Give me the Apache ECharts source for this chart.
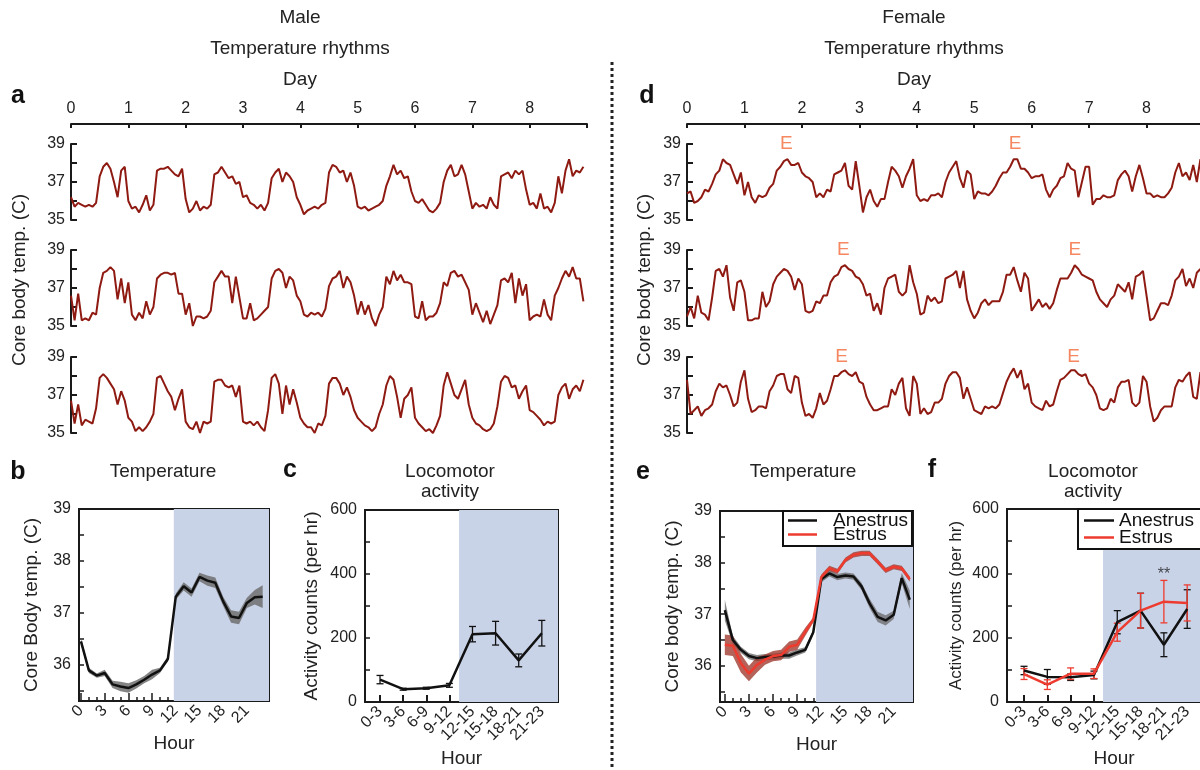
<!DOCTYPE html>
<html lang="en">
<head>
<meta charset="UTF-8">
<title>Temperature rhythms</title>
<style>
  html, body { margin: 0; padding: 0; overflow: hidden; background: #fff; }
  #main { width: 1240px; height: 770px; }
</style>
<script src="https://cdn.jsdelivr.net/npm/echarts@6.0.0/dist/echarts.min.js"></script>
</head>
<body>
<div id="main"></div>
<script>
// ---------- data ----------
// raw core temperature, one sample every 1.5 h (16 per day), 9 days
var SAMPLES_PER_DAY = 16;
var maleTrace1 = [
  36.2,35.7,35.9,35.8,35.7,35.8,35.7,35.9,37.3,37.8,38.0,37.7,37.0,36.2,37.6,37.8,
  36.0,35.6,35.7,35.4,35.8,36.3,35.5,35.8,37.6,37.7,37.7,37.8,37.6,37.4,37.3,37.7,
  36.1,35.4,35.6,36.0,35.5,35.7,35.6,35.8,37.4,37.5,37.8,37.5,37.2,37.3,36.9,37.0,
  36.2,36.3,35.9,35.8,35.6,35.8,35.5,35.9,37.2,37.5,37.7,37.0,37.5,37.3,37.0,36.2,
  35.8,35.3,35.5,35.6,35.7,35.6,35.8,35.9,37.5,37.9,37.8,37.5,37.6,37.0,37.5,36.8,
  35.7,35.6,35.7,35.5,35.6,35.7,35.8,36.0,36.8,37.3,37.9,37.4,37.6,37.2,37.3,36.5,
  36.0,35.9,36.1,35.8,35.5,35.4,35.6,35.9,37.0,37.6,37.9,37.3,37.4,37.9,37.4,36.5,
  35.6,35.9,35.7,35.8,35.6,36.2,35.8,35.6,37.3,37.4,37.5,37.2,37.6,37.4,37.6,36.6,
  35.8,35.9,35.6,36.4,35.6,35.7,35.4,35.9,37.3,36.4,37.6,38.2,37.3,37.6,37.5,37.8
];
var maleTrace2 = [
  36.6,35.3,36.7,35.3,35.4,35.3,35.7,35.6,37.0,37.8,37.9,38.1,37.9,36.4,37.5,36.2,
  37.3,35.6,35.3,35.7,35.4,36.3,35.6,36.0,37.5,37.7,37.8,37.8,37.7,37.8,36.7,36.7,
  35.6,36.2,35.0,35.5,35.5,35.4,35.5,35.8,37.3,37.6,37.9,37.6,37.6,36.2,37.6,36.5,
  35.4,35.4,36.2,35.3,35.4,35.6,35.8,36.0,37.5,37.9,38.0,37.8,37.0,37.6,37.4,36.6,
  36.3,35.6,35.5,35.7,35.6,35.7,35.5,35.9,37.1,37.5,37.6,37.9,37.0,37.6,37.3,36.6,
  35.6,36.3,35.6,36.1,35.4,35.0,35.6,36.0,37.6,37.2,37.9,37.4,37.7,37.3,37.3,37.2,
  35.5,35.4,36.3,35.3,35.5,35.5,35.7,36.2,37.3,37.1,37.8,37.9,37.6,37.7,37.3,36.9,
  35.6,36.2,35.7,35.2,35.8,35.1,35.6,36.1,37.4,37.5,37.3,37.8,36.2,37.5,36.6,37.2,
  35.3,35.5,35.6,35.5,36.4,35.6,35.3,36.6,37.0,37.5,37.9,37.6,38.1,37.5,37.5,36.3
];
var maleTrace3 = [
  36.7,35.5,36.5,35.4,35.7,35.6,35.5,36.3,37.9,38.1,37.9,37.6,37.3,36.5,37.2,36.7,
  35.8,35.6,35.1,35.3,35.1,35.3,35.6,36.0,37.9,38.0,37.6,37.2,36.9,36.2,36.8,37.3,
  35.6,35.3,35.2,35.6,35.0,35.6,35.5,35.6,37.7,37.8,37.8,37.5,37.4,37.5,36.9,37.5,
  35.6,35.5,35.6,35.4,35.6,35.3,35.1,36.2,37.9,38.1,37.6,36.0,37.5,36.5,37.3,36.6,
  35.8,35.5,35.3,35.3,35.0,35.5,35.4,35.9,37.6,37.9,37.9,37.6,37.0,37.4,36.9,36.2,
  35.8,35.6,35.4,35.3,35.1,35.3,36.0,36.5,37.5,38.0,37.8,36.9,35.8,36.8,37.0,37.4,
  35.8,35.5,35.3,35.1,35.2,35.0,35.4,35.9,37.5,38.2,37.6,37.0,36.8,37.3,37.8,36.5,
  35.8,35.5,35.4,35.2,35.1,35.2,35.5,36.4,37.7,38.0,37.9,37.4,37.5,36.8,37.2,37.5,
  36.2,36.1,35.9,35.7,35.4,35.6,35.5,35.6,37.0,37.4,37.6,36.8,37.3,37.5,37.2,37.8
];
var femaleTrace1 = [
  36.4,36.5,35.9,36.0,36.2,36.6,36.5,36.9,37.4,37.6,38.2,38.0,37.9,37.4,36.9,37.5,
  36.3,37.0,36.2,35.9,36.3,36.2,36.3,36.7,36.9,37.6,37.8,38.1,38.2,37.9,37.9,38.0,
  37.5,37.3,37.2,37.0,36.2,36.4,36.2,36.6,36.5,37.4,37.5,37.6,38.0,36.8,36.6,38.1,
  36.8,35.4,36.2,36.6,36.0,35.7,36.1,36.1,37.0,37.8,37.6,37.3,36.7,37.3,37.7,38.2,
  36.3,36.0,36.1,36.0,36.3,36.3,36.4,36.2,37.0,37.5,37.8,38.1,37.2,36.7,37.6,37.4,
  36.1,36.5,36.4,36.4,36.3,36.5,36.8,37.2,37.5,37.5,37.8,38.2,38.2,37.7,37.7,37.5,
  37.2,37.3,37.3,37.4,36.6,36.2,36.6,36.8,37.2,37.3,38.0,37.7,37.6,36.2,37.0,37.8,
  37.8,35.8,36.1,36.1,36.3,36.2,36.2,36.3,37.1,37.4,37.6,37.3,36.5,37.3,37.9,37.2,
  36.4,36.4,36.2,36.3,36.2,36.2,36.4,36.7,37.5,38.0,37.3,37.5,37.1,37.9,37.0,38.2
];
var femaleTrace2 = [
  35.5,36.0,35.4,36.6,35.7,35.6,35.3,36.5,37.9,38.0,37.6,38.2,36.5,35.8,37.3,37.4,
  36.8,35.3,35.3,35.4,35.4,36.8,36.0,36.3,37.2,37.6,37.8,38.0,37.9,37.6,36.9,37.5,
  37.2,35.8,35.7,35.8,36.3,36.2,36.6,36.6,37.3,37.6,37.7,38.1,38.2,38.0,37.9,37.6,
  37.5,37.2,36.6,36.7,35.8,36.2,35.6,37.0,37.5,37.6,37.7,36.8,36.6,36.8,38.2,37.3,
  36.7,35.6,35.7,36.6,36.3,36.5,36.2,36.3,37.5,37.6,37.7,37.9,37.0,37.9,36.4,35.8,
  35.4,35.7,36.2,36.4,36.1,36.3,36.3,36.3,36.8,37.7,37.7,38.1,37.4,36.8,37.8,37.5,
  35.8,36.1,36.4,36.0,36.2,35.9,36.2,36.9,37.5,37.5,37.5,37.8,38.2,38.0,37.7,37.6,
  37.5,37.4,36.8,36.4,36.2,36.0,36.4,36.6,37.2,37.0,36.8,37.3,36.4,37.6,37.7,37.9,
  36.6,35.3,35.4,35.8,36.2,36.2,36.1,36.6,37.4,37.6,38.0,37.1,37.5,37.0,37.8,38.0
];
var femaleTrace3 = [
  37.8,36.0,36.2,36.4,35.9,36.2,36.3,36.5,37.2,37.6,37.4,37.5,37.0,36.4,36.6,37.7,
  38.3,36.8,36.1,36.2,36.4,36.4,36.3,37.2,37.5,38.0,38.1,38.1,37.3,37.1,38.0,37.9,
  36.6,35.9,36.0,35.8,36.3,37.1,36.5,36.7,37.3,38.0,38.0,38.2,38.3,38.1,38.0,38.2,
  37.7,37.6,36.9,36.5,36.2,36.2,36.3,36.4,36.4,37.3,37.0,37.6,37.9,36.3,35.9,38.0,
  37.6,36.0,36.3,36.0,36.1,36.6,36.6,36.8,37.6,38.0,38.2,38.2,37.9,36.8,37.4,36.8,
  36.2,36.1,36.0,36.4,36.3,36.4,36.3,36.5,37.1,37.7,38.1,38.4,37.9,38.3,37.3,37.6,
  36.6,36.4,36.3,36.2,36.7,36.4,36.5,37.2,37.8,37.9,38.1,38.3,38.3,38.1,38.0,38.1,
  37.6,37.4,37.0,36.3,36.2,36.3,36.8,36.6,37.4,37.7,37.7,37.8,36.6,36.4,36.6,38.0,
  37.7,36.4,35.6,35.8,36.2,36.4,36.4,36.4,37.4,37.8,37.7,38.0,38.2,36.9,36.8,38.2
];
// estrus marks (day) for each female row
var estrusDays = [[1.73, 5.71], [2.72, 6.75], [2.69, 6.73]];

// hourly averages
var hours = [0,1,2,3,4,5,6,7,8,9,10,11,12,13,14,15,16,17,18,19,20,21,22,23];
var hourLabels = [0,3,6,9,12,15,18,21];
var maleTemp = [36.45,35.89,35.79,35.84,35.62,35.58,35.55,35.62,35.71,35.81,35.89,36.11,
                37.31,37.51,37.39,37.69,37.62,37.58,37.22,36.93,36.9,37.19,37.3,37.31];
var maleTempErr = [0.06,0.05,0.04,0.06,0.07,0.09,0.09,0.08,0.07,0.09,0.05,0.05,
                   0.06,0.08,0.08,0.08,0.10,0.10,0.09,0.12,0.12,0.10,0.14,0.22];
var anestrusTemp = [37.08,36.5,36.31,36.19,36.15,36.17,36.18,36.2,36.2,36.26,36.31,36.65,
                    37.68,37.79,37.72,37.75,37.73,37.54,37.21,36.95,36.88,36.99,37.7,37.28];
var anestrusTempErr = [0.2,0.08,0.06,0.06,0.06,0.06,0.06,0.06,0.06,0.06,0.05,0.05,
                       0.06,0.06,0.06,0.06,0.06,0.07,0.09,0.1,0.1,0.08,0.1,0.18];
var estrusTemp = [36.41,36.39,36.05,35.85,36.02,36.12,36.19,36.21,36.37,36.41,36.66,36.89,
                  37.72,37.89,37.83,38.05,38.15,38.18,38.18,38.02,37.85,37.92,37.89,37.68];
var estrusTempErr = [0.2,0.2,0.18,0.15,0.15,0.1,0.1,0.1,0.1,0.1,0.08,0.05,
                     0.05,0.05,0.05,0.05,0.05,0.05,0.05,0.05,0.05,0.05,0.05,0.05];

var actCats = ['0-3','3-6','6-9','9-12','12-15','15-18','18-21','21-23'];
var maleAct = [70,40,43,52,212,215,130,215];
var maleActErr = [13,3,3,6,24,37,20,40];
var anestrusAct = [98,78,77,84,248,284,178,289];
var anestrusActErr = [13,23,10,12,36,54,37,60];
var estrusAct = [87,54,88,88,217,284,312,308];
var estrusActErr = [17,15,18,15,28,54,66,56];

var tempTicks = [35.5,36,36.5,37,37.5,38,38.5,39];
var tempLabels = [36,37,38,39];

// ---------- styles ----------
var FONT = '"Liberation Sans", Arial, Helvetica, sans-serif';
var INK = '#1a1a1a';
var TXT = '#222';
var TRACE = '#8e1a12';
var SHADE = '#c9d3e8';
var RED = '#ee3b2f';
var ORANGE = '#f2693a';

var chart = echarts.init(document.getElementById('main'));

function txt(s, x, y, size, extra) {
  var el = {
    type: 'text', x: x, y: y, silent: true,
    style: { text: s, x: 0, y: 0, fill: TXT, font: size + 'px ' + FONT, align: 'center', verticalAlign: 'middle' }
  };
  if (extra) Object.assign(el, extra);
  return el;
}
function letter(s, x, y) {
  return { type: 'text', x: x, y: y, silent: true,
    style: { text: s, fill: '#111', font: 'bold 25px ' + FONT, align: 'center', verticalAlign: 'middle' } };
}

// ---------- grids ----------
var grids = [];
var rowTops = [144, 250, 357];
rowTops.forEach(function (t) { grids.push({ left: 71, top: t, width: 516, height: 76 }); });
rowTops.forEach(function (t) { grids.push({ left: 687, top: t, width: 517, height: 76 }); });
var boxed = { show: true, borderColor: INK, borderWidth: 2, backgroundColor: 'transparent' };
grids.push(Object.assign({ left: 79, top: 509, width: 190, height: 192 }, boxed));   // 6 b
grids.push(Object.assign({ left: 365, top: 510, width: 193, height: 192 }, boxed));  // 7 c
grids.push(Object.assign({ left: 720, top: 511, width: 193, height: 191 }, boxed));  // 8 e
grids.push(Object.assign({ left: 1007, top: 509, width: 214, height: 193 }, boxed)); // 9 f

// ---------- axes ----------
function dayAxis(gi, shown) {
  return {
    type: 'value', gridIndex: gi, min: 0, max: 9, interval: 1, show: shown,
    position: 'top', offset: 20,
    axisLine: { show: true, onZero: false, lineStyle: { color: INK, width: 2 } },
    axisTick: { show: true, inside: true, length: 4, lineStyle: { color: INK, width: 2 } },
    axisLabel: { fontSize: 16, color: TXT, fontFamily: FONT, margin: 7,
      formatter: function (v) { return v === 9 ? '' : v; } },
    splitLine: { show: false }
  };
}
function traceY(gi) {
  return {
    type: 'value', gridIndex: gi, min: 35, max: 39, interval: 1,
    axisLine: { show: true, onZero: false, lineStyle: { color: INK, width: 2 } },
    axisTick: { show: true, inside: true, length: 6, lineStyle: { color: INK, width: 2 } },
    axisLabel: { fontSize: 16, color: TXT, fontFamily: FONT, margin: 6,
      formatter: function (v) { return v % 2 === 1 ? v : ''; } },
    splitLine: { show: false }
  };
}
function hourAxis(gi, min, max) {
  return {
    type: 'value', gridIndex: gi, min: min, max: max, position: 'bottom',
    axisLine: { show: true, onZero: false, lineStyle: { color: INK, width: 2 } },
    axisTick: { show: true, inside: true, length: 4, customValues: hours, lineStyle: { color: INK, width: 1.5 } },
    axisLabel: { customValues: hourLabels, rotate: 45, margin: 7, fontSize: 16, color: TXT, fontFamily: FONT },
    splitLine: { show: false },
    name: 'Hour', nameLocation: 'middle', nameGap: 33,
    nameTextStyle: { fontSize: 19, color: TXT, fontFamily: FONT }
  };
}
function hourMajor(gi, min, max) {
  return {
    type: 'value', gridIndex: gi, min: min, max: max, position: 'bottom',
    axisLine: { show: false }, axisLabel: { show: false }, splitLine: { show: false },
    axisTick: { show: true, inside: true, length: 8, customValues: hourLabels, lineStyle: { color: INK, width: 1.5 } }
  };
}
function actX(gi, min, max) {
  return {
    type: 'value', gridIndex: gi, min: min, max: max, position: 'bottom',
    axisLine: { show: true, onZero: false, lineStyle: { color: INK, width: 2 } },
    axisTick: { show: true, inside: true, length: 7, customValues: [0,1,2,3,4,5,6,7], lineStyle: { color: INK, width: 2 } },
    axisLabel: { customValues: [0,1,2,3,4,5,6,7], rotate: 45, margin: 7, fontSize: 16, color: TXT, fontFamily: FONT,
      formatter: function (v) { return actCats[v]; } },
    splitLine: { show: false },
    name: 'Hour', nameLocation: 'middle', nameGap: 47,
    nameTextStyle: { fontSize: 19, color: TXT, fontFamily: FONT }
  };
}
function tempY(gi, name, gap) {
  return {
    type: 'value', gridIndex: gi, min: 35.3, max: 39,
    axisLine: { show: true, onZero: false, lineStyle: { color: INK, width: 2 } },
    axisTick: { show: true, inside: true, length: 5, customValues: tempTicks, lineStyle: { color: INK, width: 1.5 } },
    axisLabel: { customValues: tempLabels, fontSize: 16, margin: 8, color: TXT, fontFamily: FONT },
    splitLine: { show: false },
    name: name, nameLocation: 'middle', nameRotate: 90, nameGap: gap,
    nameTextStyle: { fontSize: 19, color: TXT, fontFamily: FONT }
  };
}
function actY(gi, size, gap) {
  return {
    type: 'value', gridIndex: gi, min: 0, max: 600, interval: 100,
    axisLine: { show: true, onZero: false, lineStyle: { color: INK, width: 2 } },
    axisTick: { show: true, inside: true, length: 5, lineStyle: { color: INK, width: 1.5 } },
    axisLabel: { fontSize: 16, margin: 8, color: TXT, fontFamily: FONT,
      formatter: function (v) { return v % 200 === 0 ? v : ''; } },
    splitLine: { show: false },
    name: 'Activity counts (per hr)', nameLocation: 'middle', nameRotate: 90, nameGap: gap,
    nameTextStyle: { fontSize: size, color: TXT, fontFamily: FONT }
  };
}

var xAxes = [
  dayAxis(0, true), dayAxis(1, false), dayAxis(2, false),
  dayAxis(3, true), dayAxis(4, false), dayAxis(5, false),
  hourAxis(6, -0.25, 23.8), hourMajor(6, -0.25, 23.8),   // 6, 7
  actX(7, -0.65, 7.7),                                    // 8
  hourAxis(8, -0.6, 23.4), hourMajor(8, -0.6, 23.4),      // 9, 10
  actX(9, -0.73, 8.45)                                    // 11
];
var yAxes = [
  traceY(0), traceY(1), traceY(2), traceY(3), traceY(4), traceY(5),
  tempY(6, 'Core Body temp. (C)', 38),
  actY(7, 19, 44),
  tempY(8, 'Core body temp. (C)', 38),
  actY(9, 17, 42)
];

// ---------- series helpers ----------
function traceSeries(values, ai) {
  return {
    type: 'line', xAxisIndex: ai, yAxisIndex: ai, showSymbol: false, z: 3, silent: true,
    lineStyle: { color: TRACE, width: 2 },
    data: values.map(function (v, i) { return [i / SAMPLES_PER_DAY, v]; })
  };
}
function markSeries(xi, yi, from, to) {
  return {
    type: 'line', xAxisIndex: xi, yAxisIndex: yi, data: [], z: 0, silent: true,
    markArea: { silent: true, itemStyle: { color: SHADE }, data: [[{ xAxis: from }, { xAxis: to }]] }
  };
}
function bandSeries(xi, yi, mean, err, color) {
  return {
    type: 'custom', xAxisIndex: xi, yAxisIndex: yi, z: 1, silent: true,
    data: mean.map(function (v, i) { return [hours[i], v - err[i], v + err[i]]; }),
    encode: { x: 0, y: [1, 2] },
    renderItem: function (params, api) {
      if (params.dataIndex !== 0) return null;
      var up = [], dn = [];
      for (var i = 0; i < mean.length; i++) {
        up.push(api.coord([hours[i], mean[i] + err[i]]));
        dn.unshift(api.coord([hours[i], mean[i] - err[i]]));
      }
      return { type: 'polygon', shape: { points: up.concat(dn) }, style: { fill: color } };
    }
  };
}
function meanLine(name, xi, yi, xs, values, color, width) {
  return {
    name: name, type: 'line', xAxisIndex: xi, yAxisIndex: yi, showSymbol: false, z: 3, silent: true,
    color: color, lineStyle: { color: color, width: width },
    data: values.map(function (v, i) { return [xs[i], v]; })
  };
}
function errBars(xi, yi, values, err, color) {
  return {
    type: 'custom', xAxisIndex: xi, yAxisIndex: yi, z: 2, silent: true,
    data: values.map(function (v, i) { return [i, v - err[i], v + err[i]]; }),
    encode: { x: 0, y: [1, 2] },
    renderItem: function (params, api) {
      var lo = api.coord([api.value(0), api.value(1)]);
      var hi = api.coord([api.value(0), api.value(2)]);
      var w = 3.5, st = { stroke: color, lineWidth: 1.3 };
      return { type: 'group', children: [
        { type: 'line', shape: { x1: lo[0], y1: lo[1], x2: hi[0], y2: hi[1] }, style: st },
        { type: 'line', shape: { x1: lo[0] - w, y1: lo[1], x2: lo[0] + w, y2: lo[1] }, style: st },
        { type: 'line', shape: { x1: hi[0] - w, y1: hi[1], x2: hi[0] + w, y2: hi[1] }, style: st }
      ] };
    }
  };
}
function labelSeries(ai, yi, points, text, color, size) {
  return {
    type: 'scatter', xAxisIndex: ai, yAxisIndex: yi, symbolSize: 0, clip: false, z: 4, silent: true,
    data: points,
    label: { show: true, position: 'inside', formatter: text, color: color, fontSize: size, fontFamily: FONT }
  };
}

var catIdx = [0,1,2,3,4,5,6,7];
var series = [
  traceSeries(maleTrace1, 0), traceSeries(maleTrace2, 1), traceSeries(maleTrace3, 2),
  traceSeries(femaleTrace1, 3), traceSeries(femaleTrace2, 4), traceSeries(femaleTrace3, 5)
];
estrusDays.forEach(function (days, r) {
  series.push(labelSeries(3 + r, 3 + r, days.map(function (d) { return [d, 39]; }), 'E', ORANGE, 19));
});
// b
series.push(markSeries(6, 6, 11.75, 23.8));
series.push(bandSeries(6, 6, maleTemp, maleTempErr, 'rgba(110,110,110,0.85)'));
series.push(meanLine('Male', 6, 6, hours, maleTemp, '#111', 2.5));
// c
series.push(markSeries(8, 7, 3.42, 7.7));
series.push(meanLine('MaleAct', 8, 7, catIdx, maleAct, '#111', 2.5));
series.push(errBars(8, 7, maleAct, maleActErr, '#111'));
// e
series.push(markSeries(9, 8, 11.35, 23.4));
series.push(bandSeries(9, 8, anestrusTemp, anestrusTempErr, 'rgba(110,110,110,0.8)'));
series.push(bandSeries(9, 8, estrusTemp, estrusTempErr, 'rgba(160,60,48,0.8)'));
series.push(meanLine('Anestrus', 9, 8, hours, anestrusTemp, '#111', 2.5));
series.push(meanLine('Estrus', 9, 8, hours, estrusTemp, RED, 2.5));
// f
series.push(markSeries(11, 9, 3.39, 8.45));
series.push(meanLine('Anestrus', 11, 9, catIdx, anestrusAct, '#111', 2.5));
series.push(errBars(11, 9, anestrusAct, anestrusActErr, '#111'));
series.push(meanLine('Estrus', 11, 9, catIdx, estrusAct, RED, 2.5));
series.push(errBars(11, 9, estrusAct, estrusActErr, RED));
series.push(labelSeries(11, 9, [[6, 396]], '**', TXT, 16));

var legendBase = {
  orient: 'vertical', selectedMode: false, itemHeight: 2.5,
  borderColor: '#111', borderWidth: 2, backgroundColor: '#fff',
  data: [{ name: 'Anestrus', icon: 'rect' }, { name: 'Estrus', icon: 'rect' }]
};

var option = {
  animation: false,
  grid: grids,
  xAxis: xAxes,
  yAxis: yAxes,
  legend: [
    Object.assign({}, legendBase, {
      left: 783, top: 511, itemWidth: 29, itemGap: -5, padding: [0, 4, 2, 5],
      textStyle: { fontSize: 19, color: '#111', fontFamily: FONT, padding: [0, 0, 0, 11] }
    }),
    Object.assign({}, legendBase, {
      left: 1078, top: 509, itemWidth: 30, itemGap: -2, padding: [2, 30, 2, 6],
      textStyle: { fontSize: 19, color: '#111', fontFamily: FONT }
    })
  ],
  graphic: [
    txt('Male', 300, 18, 19), txt('Temperature rhythms', 300, 49, 19), txt('Day', 300, 80, 19),
    txt('Female', 914, 18, 19), txt('Temperature rhythms', 914, 49, 19), txt('Day', 914, 80, 19),
    txt('Core body temp. (C)', 20, 280, 19, { rotation: Math.PI / 2 }),
    txt('Core body temp. (C)', 645, 280, 19, { rotation: Math.PI / 2 }),
    letter('a', 18, 96), letter('d', 647, 96),
    letter('b', 18, 472), letter('c', 290, 470), letter('e', 643, 472), letter('f', 932, 470),
    txt('Temperature', 163, 472, 19), txt('Temperature', 803, 472, 19),
    txt('Locomotor', 450, 472, 19), txt('activity', 450, 492, 19),
    txt('Locomotor', 1093, 472, 19), txt('activity', 1093, 492, 19),
    { type: 'line', silent: true, shape: { x1: 612, y1: 62, x2: 612, y2: 770 },
      style: { stroke: '#222', lineWidth: 3, lineDash: [3, 3] } }
  ],
  series: series
};

chart.setOption(option);
</script>
</body>
</html>
